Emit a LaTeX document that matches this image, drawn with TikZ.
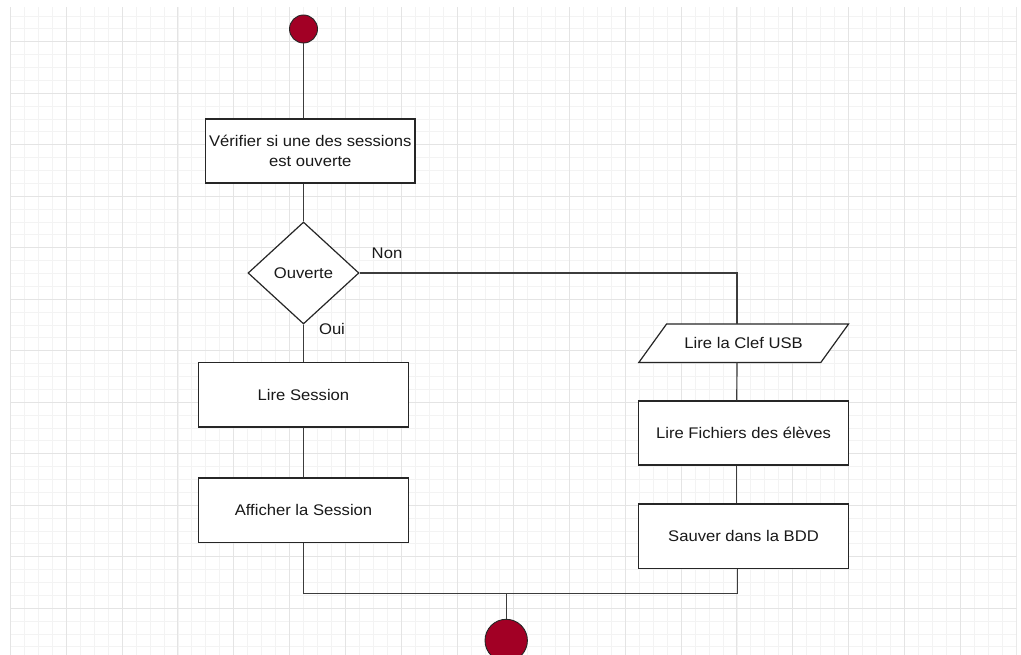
\documentclass[tikz,border=0pt]{standalone}
\usepackage{fontspec}
\setmainfont{Liberation Sans}[FakeStretch=1.08]
\usetikzlibrary{shapes.geometric}
\definecolor{dotred}{RGB}{162,0,37}
\definecolor{gridmajor}{RGB}{228,228,228}
\definecolor{gridminor}{RGB}{243,243,243}
\definecolor{wire}{RGB}{60,60,60}
\begin{document}
\begin{tikzpicture}[x=1pt,y=-1pt,
  every node/.style={font=\fontsize{15.4}{19.5}\selectfont, text=black!90},
  stepbox/.style={draw=black!85, line width=1.2pt, fill=white, rectangle, inner sep=0pt},
  decision/.style={draw=black!85, line width=1.2pt, fill=white, diamond, inner sep=0pt},
  dot/.style={circle, draw=black!85, line width=0.9pt, fill=dotred, inner sep=0pt},
  flow/.style={draw=wire, line width=1.2pt},
  tag/.style={inner sep=0pt}]

% page and background
\useasboundingbox (0,0) rectangle (1021,655);
\fill[white] (0,0) rectangle (1021,655);

% squared paper
\begin{scope}
  \clip (10,8) rectangle (1016.5,655);
  \foreach \i in {0,...,72} {
    \draw[gridminor, line width=0.8pt] ({10.2+13.975*\i},0) -- ({10.2+13.975*\i},655);
  }
  \foreach \j in {-3,...,48} {
    \draw[gridminor, line width=0.8pt] (0,{41.7+12.875*\j}) -- (1021,{41.7+12.875*\j});
  }
  \foreach \i in {0,...,18} {
    \draw[gridmajor, line width=1pt] ({10.2+55.9*\i},0) -- ({10.2+55.9*\i},655);
  }
  \foreach \j in {0,...,11} {
    \draw[gridmajor, line width=1pt] (0,{41.7+51.5*\j}) -- (1021,{41.7+51.5*\j});
  }
\end{scope}

% nodes
\node[dot, minimum size=28pt] (start) at (303.5,29) {};
\node[stepbox, minimum width=209.3pt, minimum height=64pt, align=center] (verif) at (310.3,151)
  {Vérifier si une des sessions\\est ouverte};
\node[decision, minimum width=111pt, minimum height=102pt] (ouv) at (303.5,273) {Ouverte};
\node[stepbox, minimum width=210.4pt, minimum height=64.3pt] (lire) at (303.5,394.8) {Lire Session};
\node[stepbox, minimum width=210.4pt, minimum height=64.7pt] (aff) at (303.5,510.4) {Afficher la Session};

% input/output step drawn as a parallelogram around its text node
\node[rectangle, inner sep=0pt, minimum width=181.6pt, minimum height=38pt] (clef) at (743.65,343.3) {};
\draw[black!85, line width=1.2pt, fill=white]
  ([xshift=-13.85pt]clef.south west) -- ([xshift=-13.85pt]clef.south east)
  -- ([xshift=13.85pt]clef.north east) -- ([xshift=13.85pt]clef.north west) -- cycle;
\node at (clef) {Lire la Clef USB};

\node[stepbox, minimum width=209.3pt, minimum height=64pt] (fich) at (743.5,433) {Lire Fichiers des élèves};
\node[stepbox, minimum width=210.4pt, minimum height=64.3pt] (bdd) at (743.5,536.2) {Sauver dans la BDD};
\node[dot, minimum size=42.4pt] (fin) at (506.2,640.5) {};

% branch labels
\node[tag] (non) at (387,253) {Non};
\node[tag] (oui) at (332,329) {Oui};

% connectors
\coordinate (join) at (506.2,593.5);
\begin{scope}[on background layer/.style={}]
\draw[flow] (start.south) -- ([xshift=-6.8pt]verif.north);
\draw[flow] ([xshift=-6.8pt]verif.south) -- (ouv.north);
\draw[flow] (ouv.south) -- (lire.north);
\draw[flow] (lire.south) -- (aff.north);
\draw[flow] (ouv.east) -| ([xshift=-6.7pt]clef.north);
\draw[flow] ([xshift=-6.7pt]clef.south) -- ([xshift=-6.7pt]fich.north);
\draw[flow] ([xshift=-6.7pt]fich.south) -- ([xshift=-6.7pt]bdd.north);
\draw[flow] (aff.south) |- (join) -| ([xshift=-5.8pt]bdd.south);
\draw[flow] (join) -- (fin.north);
\end{scope}
\end{tikzpicture}
\end{document}
